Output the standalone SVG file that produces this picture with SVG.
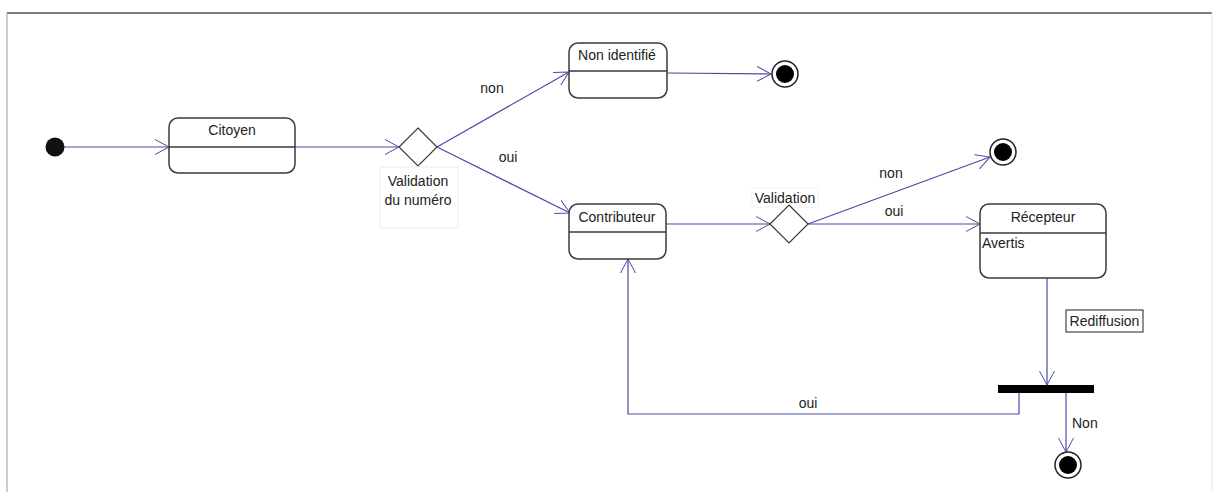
<svg xmlns="http://www.w3.org/2000/svg" width="1217" height="492" viewBox="0 0 1217 492">
<defs>
<marker id="arr" markerWidth="16" markerHeight="18" refX="14" refY="9" orient="auto" markerUnits="userSpaceOnUse">
<path d="M0,1.5 L14,9 L0,16.5" fill="none" stroke="#4a4aa8" stroke-width="1"/>
</marker>
<style>
.st{fill:#fff;stroke:#3a3a3a;stroke-width:1.5}
.dv{stroke:#3a3a3a;stroke-width:1.5}
.cn{fill:none;stroke:#4a4aa8;stroke-width:1.2}
.t{font-family:"Liberation Sans",Arial,sans-serif;font-size:14px;fill:#222}
.c{text-anchor:middle}
.fin{fill:#fff;stroke:#222;stroke-width:1.5}
</style>
</defs>
<rect width="1217" height="492" fill="#fff"/>
<g id="frame">
<line x1="7" y1="13" x2="1212" y2="13" stroke="#7a7a7a" stroke-width="2"/>
<line x1="7" y1="13" x2="7" y2="492" stroke="#9a9a9a" stroke-width="1"/>
<line x1="1212" y1="13" x2="1212" y2="492" stroke="#e4e4e4" stroke-width="1"/>
</g>
<g id="connectors">
<line class="cn" x1="64" y1="147" x2="169" y2="147" marker-end="url(#arr)"/>
<line class="cn" x1="295" y1="147" x2="399" y2="147" marker-end="url(#arr)"/>
<line class="cn" x1="437" y1="147" x2="569" y2="72" marker-end="url(#arr)"/>
<line class="cn" x1="667" y1="73" x2="771" y2="74" marker-end="url(#arr)"/>
<line class="cn" x1="437" y1="147" x2="570" y2="213" marker-end="url(#arr)"/>
<line class="cn" x1="666" y1="224" x2="770" y2="224" marker-end="url(#arr)"/>
<line class="cn" x1="808" y1="224" x2="990" y2="157" marker-end="url(#arr)"/>
<line class="cn" x1="808" y1="224" x2="980" y2="224" marker-end="url(#arr)"/>
<line class="cn" x1="1047" y1="278" x2="1047" y2="385" marker-end="url(#arr)"/>
<polyline class="cn" points="1019,393 1019,414 628,414 628,259" marker-end="url(#arr)"/>
<line class="cn" x1="1066" y1="393" x2="1066" y2="452" marker-end="url(#arr)"/>
<text class="t c" x="492" y="93">non</text>
<text class="t c" x="508" y="162">oui</text>
<text class="t c" x="891" y="178">non</text>
<text class="t c" x="894" y="216">oui</text>
<text class="t c" x="808" y="408">oui</text>
<text class="t" x="1072" y="428">Non</text>
<g id="lbl-rediffusion">
<rect x="1066" y="310" width="77" height="22" fill="#fff" stroke="#222" stroke-width="1"/>
<text class="t c" x="1104.5" y="326">Rediffusion</text>
</g>
</g>
<g id="start">
<circle cx="55" cy="147" r="9.5" fill="#111"/>
</g>
<g id="citoyen">
<rect class="st" x="169" y="118" width="126" height="55" rx="9"/>
<line class="dv" x1="169" y1="147" x2="295" y2="147"/>
<text class="t c" x="232" y="135">Citoyen</text>
</g>
<g id="decision1">
<polygon points="418,128 437,147 418,166 399,147" fill="#fff" stroke="#3a3a3a" stroke-width="1.2"/>
<rect x="380" y="167" width="78" height="61" fill="#fff" stroke="#ececec" stroke-width="1"/>
<text class="t c" x="418" y="186">Validation</text>
<text class="t c" x="418" y="205">du numéro</text>
</g>
<g id="non-identifie">
<rect class="st" x="569" y="43" width="98" height="55" rx="9"/>
<line class="dv" x1="569" y1="71" x2="667" y2="71"/>
<text class="t c" x="617" y="60">Non identifié</text>
</g>
<g id="final1">
<circle class="fin" cx="785" cy="74" r="13"/>
<circle cx="785" cy="74" r="9" fill="#000"/>
</g>
<g id="contributeur">
<rect class="st" x="569" y="204" width="97" height="55" rx="9"/>
<line class="dv" x1="569" y1="232" x2="666" y2="232"/>
<text class="t c" x="617" y="222">Contributeur</text>
</g>
<g id="decision2">
<rect x="752" y="188" width="66" height="19" fill="#fff" stroke="#f0f0f0" stroke-width="1"/>
<text class="t c" x="785" y="203">Validation</text>
<polygon points="789,205 808,224 789,243 770,224" fill="#fff" stroke="#3a3a3a" stroke-width="1.2"/>
</g>
<g id="final2">
<circle class="fin" cx="1003" cy="152" r="13"/>
<circle cx="1003" cy="152" r="9" fill="#000"/>
</g>
<g id="recepteur">
<rect class="st" x="980" y="204" width="126" height="74" rx="9"/>
<line class="dv" x1="980" y1="233" x2="1106" y2="233"/>
<text class="t c" x="1043" y="222">Récepteur</text>
<text class="t" x="982" y="248">Avertis</text>
</g>
<g id="bar">
<rect x="998" y="385" width="96" height="8" fill="#000"/>
</g>
<g id="final3">
<circle class="fin" cx="1068" cy="465" r="13"/>
<circle cx="1068" cy="465" r="9" fill="#000"/>
</g>
</svg>
